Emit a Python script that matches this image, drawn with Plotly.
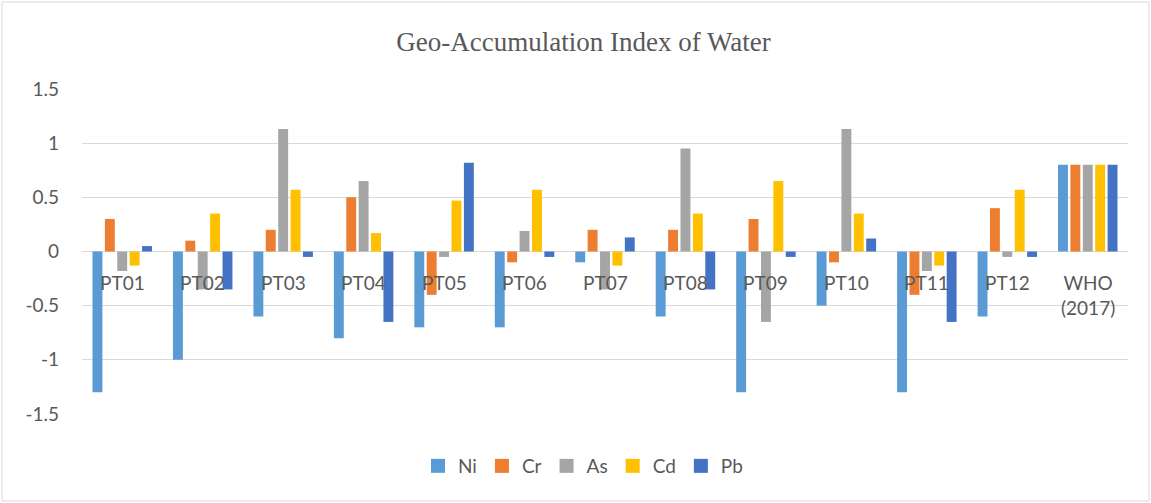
import plotly.graph_objects as go

categories = ["PT01", "PT02", "PT03", "PT04", "PT05", "PT06", "PT07",
              "PT08", "PT09", "PT10", "PT11", "PT12", "WHO (2017)"]
cat_labels = ["PT01", "PT02", "PT03", "PT04", "PT05", "PT06", "PT07",
              "PT08", "PT09", "PT10", "PT11", "PT12", "WHO<br>(2017)"]

ni = [-1.3, -1.0, -0.6, -0.8, -0.7, -0.7, -0.1, -0.6, -1.3, -0.5, -1.3, -0.6, 0.8]
cr = [0.3, 0.1, 0.2, 0.5, -0.4, -0.1, 0.2, 0.2, 0.3, -0.1, -0.4, 0.4, 0.8]
as_ = [-0.18, -0.35, 1.13, 0.65, -0.05, 0.19, -0.35, 0.95, -0.65, 1.13, -0.18, -0.05, 0.8]
cd = [-0.13, 0.35, 0.57, 0.17, 0.47, 0.57, -0.13, 0.35, 0.65, 0.35, -0.13, 0.57, 0.8]
pb = [0.05, -0.35, -0.05, -0.65, 0.82, -0.05, 0.13, -0.35, -0.05, 0.12, -0.65, -0.05, 0.8]

series = [("Ni", ni, "#5B9BD5"), ("Cr", cr, "#ED7D31"), ("As", as_, "#A5A5A5"),
          ("Cd", cd, "#FFC000"), ("Pb", pb, "#4472C4")]

y_ticks = [-1.5, -1, -0.5, 0, 0.5, 1, 1.5]
y_tick_text = ["-1.5", "-1", "-0.5", "0", "0.5", "1", "1.5"]

W, H = 1151, 503
ML, MR, MT, MB = 82, 23, 89, 89
PW, PH = W - ML - MR, H - MT - MB

fig = go.Figure()
for name, vals, color in series:
    fig.add_trace(go.Bar(x=categories, y=vals, name=name, showlegend=False,
                         legendgroup=name,
                         marker=dict(color=color, line=dict(width=0))))
# legend entries with square swatches (like the original)
for name, vals, color in series:
    fig.add_trace(go.Scatter(x=[None], y=[None], mode="markers", name=name,
                             legendgroup=name,
                             marker=dict(symbol="square", size=14, color=color)))

for c, lab in zip(categories, cat_labels):
    fig.add_annotation(x=c, y=0, xref="x", yref="y", text=lab, showarrow=False,
                       yanchor="top", yshift=-17,
                       font=dict(family="Lato", size=19, color="#595959"))

def px_x(p):
    return (p - ML) / PW

def px_y(p):
    return (H - MB - p) / PH

fig.add_shape(type="rect", xref="paper", yref="paper",
              x0=px_x(2), x1=px_x(1149), y0=px_y(501), y1=px_y(2),
              line=dict(color="#D9D9D9", width=1), fillcolor="rgba(0,0,0,0)")

fig.update_layout(
    width=W, height=H,
    margin=dict(l=ML, r=MR, t=MT, b=MB),
    paper_bgcolor="white", plot_bgcolor="white",
    barmode="group", bargap=0.23, bargroupgap=0.2,
    title=dict(text="Geo-Accumulation Index of Water", x=0.507, xanchor="center",
               y=1 - 42 / H, yanchor="middle",
               font=dict(family="Liberation Serif", size=27, color="#595959")),
    legend=dict(orientation="h", x=px_x(583), xanchor="center",
                y=px_y(466), yanchor="middle",
                font=dict(family="Lato", size=19, color="#595959"),
                itemwidth=30, tracegroupgap=0),
    showlegend=True,
)
fig.update_xaxes(showticklabels=False, showgrid=False, showline=False, ticks="")
fig.update_yaxes(range=[-1.5, 1.5], tickvals=y_ticks, ticktext=y_tick_text,
                 showgrid=True, gridcolor="#D9D9D9", gridwidth=1,
                 zeroline=True, zerolinecolor="#D9D9D9", zerolinewidth=1,
                 showline=False, ticks="", ticklabelstandoff=22,
                 tickfont=dict(family="Lato", size=19, color="#595959"))

fig.write_html("out.html", config={"displayModeBar": False},
               post_script="document.body.style.margin='0';document.body.style.overflow='hidden';")
